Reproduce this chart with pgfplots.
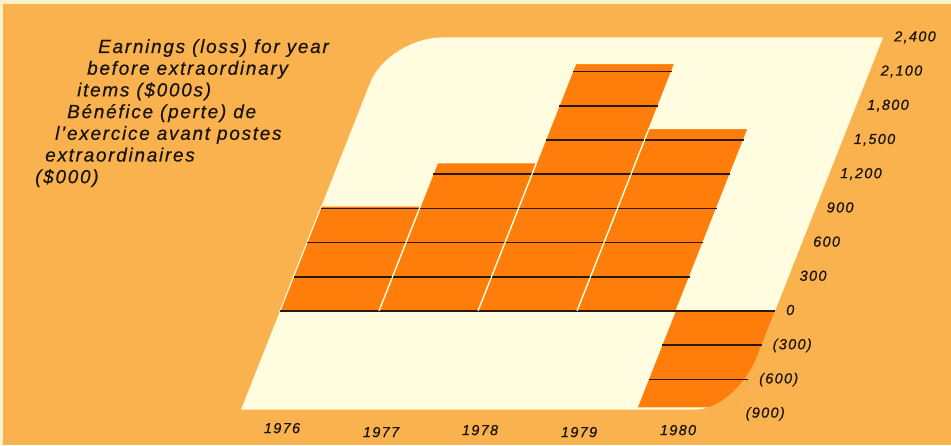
\documentclass[border=0pt]{standalone}
\usepackage{fontspec}
\setmainfont{Liberation Sans}
\usepackage{pgfplots}
\pgfplotsset{compat=1.18}
\definecolor{bg}{RGB}{250,178,78}
\definecolor{edgec}{RGB}{252,240,205}
\definecolor{panel}{RGB}{255,252,224}
\definecolor{bar}{RGB}{255,125,10}
\definecolor{gline}{RGB}{40,25,10}
\definecolor{txt}{RGB}{25,20,15}
\newcommand{\ttl}{\fontsize{19}{21.7}\selectfont\itshape\addfontfeature{LetterSpace=9,FakeBold=0.6}}
\newcommand{\tkl}{\fontsize{14.5}{16}\selectfont\itshape\addfontfeature{LetterSpace=9,FakeBold=0.6}}
\begin{document}
\begin{tikzpicture}[x=1pt,y=1pt]
\useasboundingbox (0,0) rectangle (951,445);
\fill[edgec] (0,0) rectangle (951,445);
\fill[bg] (3,0) rectangle (951,441);
% title lines (image baselines converted to tikz y = 445 - y)
\node[anchor=base west, inner sep=0pt, text=txt] at (98,392) {\ttl Earnings (loss) for year};
\node[anchor=base west, inner sep=0pt, text=txt] at (87,370.3) {\ttl before extraordinary};
\node[anchor=base west, inner sep=0pt, text=txt] at (77,348.6) {\ttl items (\$000s)};
\node[anchor=base west, inner sep=0pt, text=txt] at (67,326.9) {\ttl Bénéfice (perte) de};
\node[anchor=base west, inner sep=0pt, text=txt] at (55,305.2) {\ttl l'exercice avant postes};
\node[anchor=base west, inner sep=0pt, text=txt] at (45,283.5) {\ttl extraordinaires};
\node[anchor=base west, inner sep=0pt, text=txt] at (35,261.8) {\ttl (\$000)};
\begin{axis}[
  anchor=origin, at={(280pt,134pt)},
  x={(99pt,0pt)}, y={(0.04503pt,0.114pt)},
  xmin=0, xmax=5, ymin=-900, ymax=2400,
  clip=false,
  axis x line*=bottom, axis y line*=right,
  axis line style={draw=none},
  major tick length=0pt, tick style={draw=none},
  xtick={0.43,1.43,2.43,3.43,4.43},
  xticklabels={1976,\raisebox{-4pt}{1977},\raisebox{-2pt}{1978},\raisebox{-4pt}{1979},\raisebox{-2pt}{1980}},
  xticklabel style={anchor=base, inner sep=0pt, yshift=-19.5pt, text=txt, font=\tkl},
  ytick={-900,-600,-300,0,300,600,900,1200,1500,1800,2100,2400},
  yticklabels={(900),(600),(300),0,300,600,900,{1,200},{1,500},{1,800},{2,100},{2,400}},
  yticklabel style={anchor=base west, inner sep=0pt, xshift=11pt, yshift=-4pt, text=txt, font=\tkl},
]
% white panel with two rounded corners
\fill[panel] (0,-865) -- (0,2000) .. controls (0,2221) and (0.246,2400) .. (0.55,2400)
  -- (5,2400) -- (5,-400) .. controls (5,-657) and (4.82,-865) .. (4.6,-865) -- cycle;
% bars
\addplot[fill=bar, draw=panel, line width=1.1pt] coordinates {(0,0) (1,0) (1,920) (0,920)} -- cycle;
\addplot[fill=bar, draw=panel, line width=1.1pt] coordinates {(1,0) (2,0) (2,1300) (1,1300)} -- cycle;
\addplot[fill=bar, draw=panel, line width=1.1pt] coordinates {(2,0) (3,0) (3,2170) (2,2170)} -- cycle;
\addplot[fill=bar, draw=panel, line width=1.1pt] coordinates {(3,0) (4,0) (4,1600) (3,1600)} -- cycle;
\addplot[fill=bar, draw=none] coordinates {(4,0) (5,0) (5,-845) (4,-845)} -- cycle;
% rounded corner cut-out (only the corner region)
\fill[bg] (5,-400) .. controls (5,-657) and (4.82,-865) .. (4.6,-865) -- (5,-865) -- cycle;
% grid lines inside the bars
\addplot[gline, line width=1.5pt] coordinates {(0,0) (5,0)};
\addplot[gline, line width=1.5pt] coordinates {(0,300) (4,300)};
\addplot[gline, line width=1.5pt] coordinates {(0,600) (4,600)};
\addplot[gline, line width=1.5pt] coordinates {(0,900) (4,900)};
\addplot[gline, line width=1.5pt] coordinates {(1,1200) (4,1200)};
\addplot[gline, line width=1.5pt] coordinates {(2,1500) (4,1500)};
\addplot[gline, line width=1.5pt] coordinates {(2,1800) (3,1800)};
\addplot[gline, line width=1.5pt] coordinates {(2,2100) (3,2100)};
\addplot[gline, line width=1.5pt] coordinates {(4,-300) (5,-300)};
\addplot[gline, line width=1.5pt] coordinates {(4,-600) (5,-600)};
% separators on top
\addplot[panel, line width=1.1pt] coordinates {(1,0) (1,920)};
\addplot[panel, line width=1.1pt] coordinates {(2,0) (2,1300)};
\addplot[panel, line width=1.1pt] coordinates {(3,0) (3,1600)};
\end{axis}
\end{tikzpicture}
\end{document}
